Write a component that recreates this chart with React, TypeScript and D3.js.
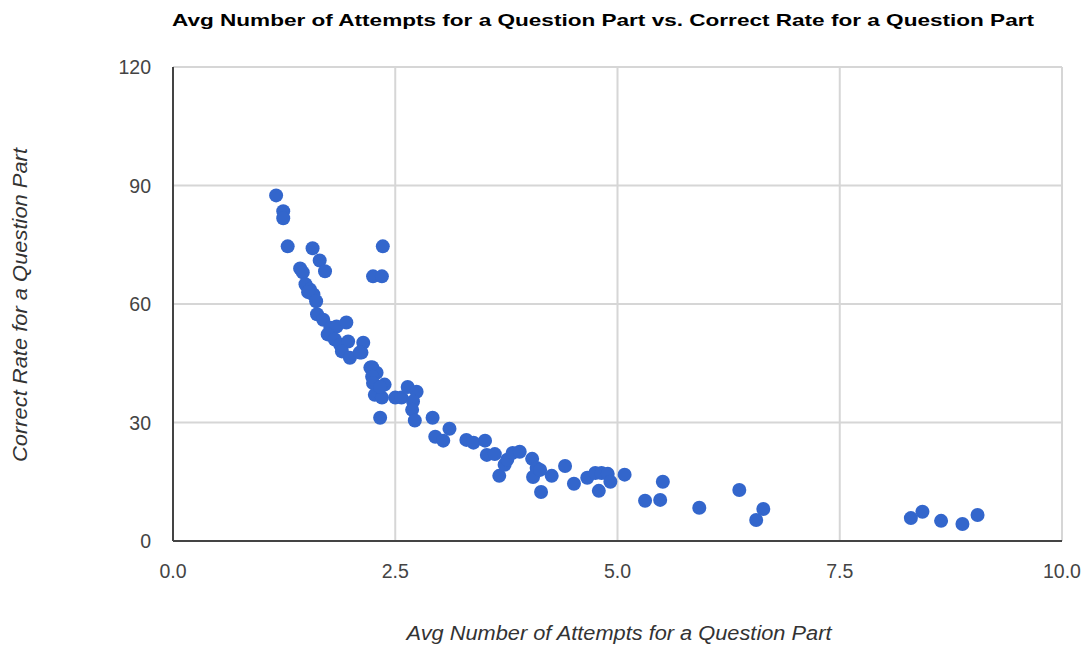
import React from "react";
import * as d3 from "d3";

const attempts: number[] = [
  1.16, 1.24, 1.24, 1.29, 1.57, 1.65, 1.71, 2.36, 2.25, 2.35,
  1.43, 1.46, 1.49, 1.54, 1.58, 1.52, 1.61, 1.62, 1.69, 1.77,
  1.84, 1.95, 1.74, 1.82, 1.88, 1.97, 1.90, 1.99, 2.14, 2.12,
  2.24, 2.29, 2.10, 2.22, 2.24, 2.25, 2.38, 2.27, 2.35, 2.50,
  2.57, 2.64, 2.74, 2.70, 2.69, 2.33, 2.72, 2.92, 2.95, 3.04,
  3.11, 3.30, 3.38, 3.51, 3.53, 3.62, 3.67, 3.73, 3.76, 3.82,
  3.90, 4.04, 4.09, 4.05, 4.14, 4.26, 4.13, 4.41, 4.51, 4.66,
  4.75, 4.82, 4.89, 4.92, 4.79, 5.08, 5.31, 5.48, 5.51, 5.92,
  6.37, 6.64, 6.56, 8.30, 8.43, 8.64, 8.88, 9.05, 2.33,
];
const correctRate: number[] = [
  87.5, 83.5, 81.7, 74.6, 74.1, 71.0, 68.3, 74.6, 67.0, 67.0,
  69.0, 68.0, 65.0, 63.7, 62.4, 63.0, 60.7, 57.4, 56.0, 54.0,
  54.3, 55.3, 52.3, 51.0, 49.7, 50.5, 48.0, 46.4, 50.2, 47.7,
  44.0, 42.6, 47.7, 43.9, 41.6, 40.0, 39.6, 37.0, 36.3, 36.3,
  36.3, 39.0, 37.8, 35.3, 33.2, 31.2, 30.5, 31.2, 26.4, 25.4,
  28.4, 25.6, 24.9, 25.4, 21.8, 22.0, 16.5, 19.3, 20.6, 22.3,
  22.6, 20.8, 18.5, 16.2, 12.4, 16.5, 18.0, 19.0, 14.5, 16.0,
  17.2, 17.2, 17.0, 15.0, 12.7, 16.8, 10.2, 10.4, 15.0, 8.4,
  12.9, 8.1, 5.3, 5.8, 7.4, 5.1, 4.3, 6.6, 39.0,
];
const xTicks: number[] = [0, 2.5, 5, 7.5, 10];
const yTicks: number[] = [0, 30, 60, 90, 120];

const title = "Avg Number of Attempts for a Question Part vs. Correct Rate for a Question Part";
const xTitle = "Avg Number of Attempts for a Question Part";
const yTitle = "Correct Rate for a Question Part";

export default function App() {
  const W = 1088;
  const H = 647;
  const left = 173;
  const right = 1062;
  const top = 67;
  const bottom = 541;
  const x = d3.scaleLinear().domain([0, 10]).range([left, right]);
  const y = d3.scaleLinear().domain([0, 120]).range([bottom, top]);
  const font = "Arial, 'Liberation Sans', sans-serif";
  const points = attempts.map((a, i) => ({ a, c: correctRate[i] }));

  return (
    <svg
      width={W}
      height={H}
      style={{ position: "absolute", left: 0, top: 0, background: "#fff" }}
      fontFamily={font}
    >
      <rect x={0} y={0} width={W} height={H} fill="#fff" />
      <text
        x={603}
        y={26}
        textAnchor="middle"
        fontWeight="bold"
        fontSize={17}
        fill="#000"
        textLength={862}
        lengthAdjust="spacingAndGlyphs"
      >
        {title}
      </text>
      {yTicks.map((t) => (
        <line key={"gy" + t} x1={left} x2={right} y1={y(t)} y2={y(t)} stroke="#d6d6d6" strokeWidth={2} />
      ))}
      {xTicks.map((t) => (
        <line key={"gx" + t} x1={x(t)} x2={x(t)} y1={top} y2={bottom} stroke="#d6d6d6" strokeWidth={2} />
      ))}
      <line x1={left} x2={left} y1={top} y2={bottom} stroke="#444" strokeWidth={2} />
      <line x1={left} x2={right} y1={bottom} y2={bottom} stroke="#444" strokeWidth={2} />
      {yTicks.map((t) => (
        <text key={"ty" + t} x={151} y={y(t) + 7} textAnchor="end" fontSize={19.5} fill="#444">
          {t}
        </text>
      ))}
      {xTicks.map((t) => (
        <text key={"tx" + t} x={x(t)} y={578} textAnchor="middle" fontSize={19.5} fill="#444">
          {t.toFixed(1)}
        </text>
      ))}
      <text
        x={619}
        y={640}
        textAnchor="middle"
        fontStyle="italic"
        fontSize={20}
        fill="#333"
        textLength={425}
        lengthAdjust="spacingAndGlyphs"
      >
        {xTitle}
      </text>
      <text
        transform={`translate(27, ${305}) rotate(-90)`}
        textAnchor="middle"
        fontStyle="italic"
        fontSize={20}
        fill="#333"
        textLength={314}
        lengthAdjust="spacingAndGlyphs"
      >
        {yTitle}
      </text>
      {points.map((p, i) => (
        <circle key={i} cx={x(p.a)} cy={y(p.c)} r={7} fill="#3366cc" />
      ))}
    </svg>
  );
}
